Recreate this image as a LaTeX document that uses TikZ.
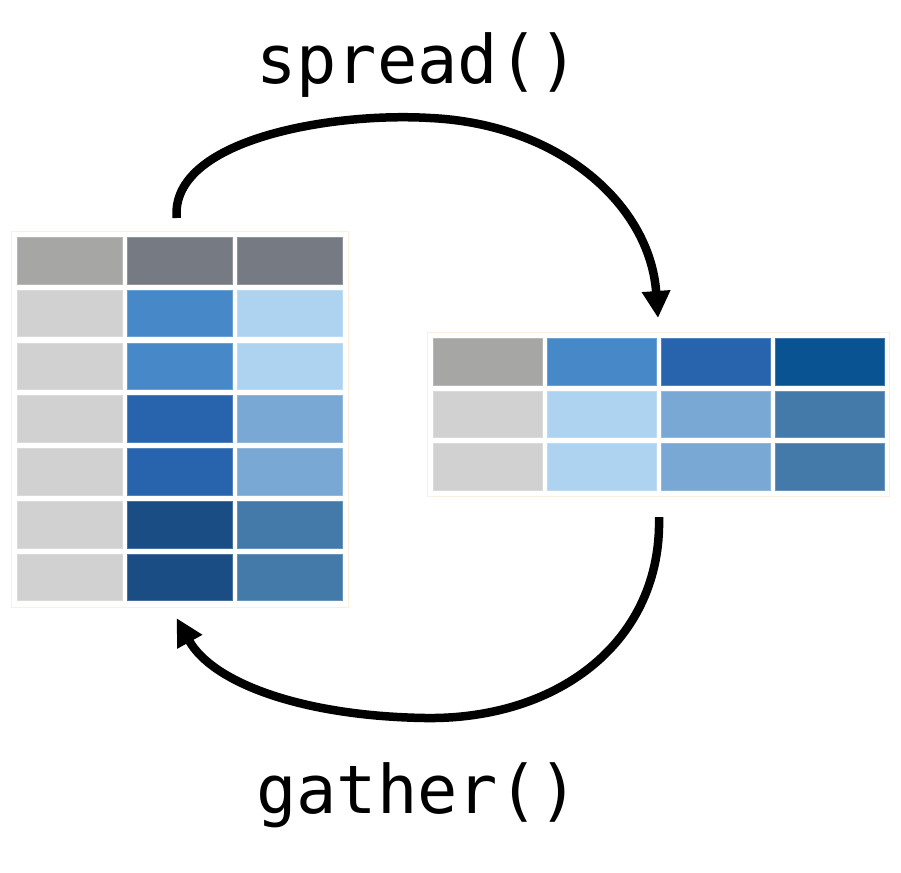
\documentclass[tikz,border=0pt]{standalone}
\usepackage{fontspec}
\newfontfamily\codefont{DejaVu Sans Mono}
\usetikzlibrary{arrows.meta}
\definecolor{hdrgray}{HTML}{A6A7A5}
\definecolor{hdrdark}{HTML}{767A83}
\definecolor{lightgray}{HTML}{D1D1D1}
\definecolor{bluemid}{HTML}{4789C8}
\definecolor{bluelight}{HTML}{ADD3F0}
\definecolor{bluestrong}{HTML}{2864AE}
\definecolor{bluesoft}{HTML}{79A8D4}
\definecolor{bluedark}{HTML}{1A4D84}
\definecolor{bluesteel}{HTML}{437AAA}
\definecolor{bluedeep}{HTML}{0A5393}
\definecolor{frameorange}{HTML}{FDEFDF}
\tikzset{
  frame/.style={draw=frameorange, line width=1.2pt, fill=white, inner sep=0pt, anchor=north west},
  cellL/.style={fill=#1, draw=#1!80!white, line width=0.6pt, minimum width=105pt, minimum height=46.5pt, inner sep=0pt, anchor=north west},
  cellR/.style={fill=#1, draw=#1!80!white, line width=0.6pt, minimum width=108.5pt, minimum height=46.5pt, inner sep=0pt, anchor=north west},
  bigarrow/.style={line width=8.5pt, -{Triangle[length=27pt,width=27pt]}},
  fname/.style={font=\codefont\fontsize{67}{67}\selectfont, anchor=base, inner sep=0pt}
}
\begin{document}
\begin{tikzpicture}[x=1pt,y=-1pt]
\useasboundingbox (0,0) rectangle (901,872);
% left (long) table
\node[frame, minimum width=337pt, minimum height=376pt] (L) at (10.7,231) {};
\foreach \r/\a/\b/\c in {0/hdrgray/hdrdark/hdrdark,
                         1/lightgray/bluemid/bluelight,
                         2/lightgray/bluemid/bluelight,
                         3/lightgray/bluestrong/bluesoft,
                         4/lightgray/bluestrong/bluesoft,
                         5/lightgray/bluedark/bluesteel,
                         6/lightgray/bluedark/bluesteel}{
  \node[cellL=\a] (L\r a) at (17, 237+52.8*\r) {};
  \node[cellL=\b] (L\r b) at (127, 237+52.8*\r) {};
  \node[cellL=\c] (L\r c) at (237, 237+52.8*\r) {};
}
% right (wide) table
\node[frame, minimum width=462pt, minimum height=164pt] (R) at (427,332) {};
\foreach \r/\a/\b/\c/\d in {0/hdrgray/bluemid/bluestrong/bluedeep,
                            1/lightgray/bluelight/bluesoft/bluesteel,
                            2/lightgray/bluelight/bluesoft/bluesteel}{
  \node[cellR=\a] (R\r a) at (433, 338+52.7*\r) {};
  \node[cellR=\b] (R\r b) at (547.3, 338+52.7*\r) {};
  \node[cellR=\c] (R\r c) at (661, 338+52.7*\r) {};
  \node[cellR=\d] (R\r d) at (775, 338+52.7*\r) {};
}
% connector end points
\coordinate (spreadstart) at ([xshift=166pt,yshift=13pt]L.north west);
\coordinate (spreadend) at ([xshift=231pt,yshift=14pt]R.north west);
\coordinate (gatherstart) at ([xshift=232pt,yshift=-20pt]R.south west);
\coordinate (gatherend) at ([xshift=166pt,yshift=-10pt]L.south west);
% arrows
\draw[bigarrow] (spreadstart) .. controls (170,140) and (330,112) .. (430,118)
   .. controls (560,124) and (650,205) .. (spreadend);
\draw[bigarrow] (gatherstart) .. controls (662,640) and (560,720) .. (425,718)
   .. controls (300,716) and (212,682) .. (gatherend);
% labels
\node[fname] (spread) at (417.5,84) {spread()};
\node[fname] (gather) at (417.5,813) {gather()};
\end{tikzpicture}
\end{document}
